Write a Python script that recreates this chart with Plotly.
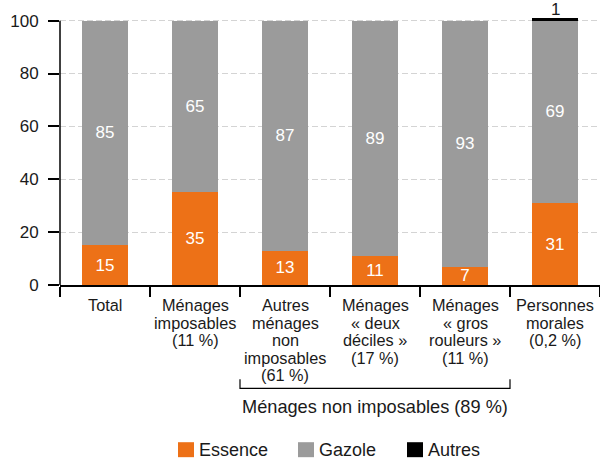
import plotly.graph_objects as go

# Fuel type shares (%) of vehicles by household category
categories = [
    "Total",
    "Ménages imposables",
    "Autres ménages non imposables",
    "Ménages « deux déciles »",
    "Ménages « gros rouleurs »",
    "Personnes morales",
]
category_lines = [
    ["Total"],
    ["Ménages", "imposables", "(11 %)"],
    ["Autres", "ménages", "non", "imposables", "(61 %)"],
    ["Ménages", "« deux", "déciles »", "(17 %)"],
    ["Ménages", "« gros", "rouleurs »", "(11 %)"],
    ["Personnes", "morales", "(0,2 %)"],
]
essence = [15, 35, 13, 11, 7, 31]
gazole = [85, 65, 87, 89, 93, 69]
autres = [0, 0, 0, 0, 0, 1]
series_names = ["Essence", "Gazole", "Autres"]
group_label = "Ménages non imposables (89 %)"
y_ticks = [0, 20, 40, 60, 80, 100]

ORANGE = "#ED7117"
GREY = "#9B9B9B"
BLACK = "#000000"
TEXT = "#1a1a1a"
FONT = "Liberation Sans, Arial, sans-serif"

W, H = 600, 459
M_L, M_R, M_T, M_B = 60, 0, 18, 173.5
PLOT_H = H - M_T - M_B
PLOT_W = W - M_L - M_R


def py(p):
    """Pixel row -> paper y."""
    return (H - M_B - p) / PLOT_H


def px(p):
    """Pixel column -> paper x."""
    return (p - M_L) / PLOT_W


fig = go.Figure()
for vals, name, col in [(essence, series_names[0], ORANGE),
                        (gazole, series_names[1], GREY)]:
    fig.add_trace(go.Bar(
        x=categories, y=vals, name=name,
        marker=dict(color=col, line=dict(width=0)),
        text=vals, textposition="inside", insidetextanchor="middle",
        textangle=0,
        textfont=dict(color="white", size=17, family=FONT),
    ))
fig.add_trace(go.Bar(
    x=categories, y=autres, name=series_names[2],
    marker=dict(color=BLACK, line=dict(width=0)),
))

annotations = []
# value label above the thin "Autres" segment
for cat, a in zip(categories, autres):
    if a:
        annotations.append(dict(
            x=cat, xref="x", y=py(9.5), yref="paper", text=str(a),
            showarrow=False, xanchor="center", yanchor="middle",
            font=dict(size=17, color=TEXT, family=FONT),
        ))
# multi-line category labels under the axis
for cat, lines in zip(categories, category_lines):
    for j, line in enumerate(lines):
        annotations.append(dict(
            x=cat, xref="x", y=py(306 + j * 17.4), yref="paper",
            text=line, showarrow=False, xanchor="center", yanchor="middle",
            font=dict(size=16.3, color=TEXT, family=FONT),
        ))
# group bracket label
annotations.append(dict(
    x=3, xref="x", y=py(408), yref="paper", text=group_label,
    showarrow=False, xanchor="center", yanchor="middle",
    font=dict(size=18.2, color=TEXT, family=FONT),
))

shapes = [
    # y-axis line stopping at 100
    dict(type="line", xref="paper", x0=0, x1=0, yref="y", y0=0, y1=100,
         line=dict(color=BLACK, width=1.5)),
    # bracket for the non-taxable households group
    dict(type="path", xref="x", yref="paper",
         path=f"M 1.5,{py(380)} L 1.5,{py(389)} L 4.5,{py(389)} L 4.5,{py(380)}",
         line=dict(color=BLACK, width=1.2)),
]

# legend drawn as swatches + labels
legend_x = [178, 298, 407]
legend_colors = [ORANGE, GREY, BLACK]
for name, lx, col in zip(series_names, legend_x, legend_colors):
    shapes.append(dict(type="rect", xref="paper", yref="paper",
                       x0=px(lx), x1=px(lx + 16), y0=py(458), y1=py(443),
                       fillcolor=col, line=dict(width=0)))
    annotations.append(dict(
        x=px(lx + 19), xref="paper", y=py(451), yref="paper", text=name,
        showarrow=False, xanchor="left", yanchor="middle",
        font=dict(size=18, color=TEXT, family=FONT),
    ))

fig.update_layout(
    width=W, height=H,
    margin=dict(l=M_L, r=M_R, t=M_T, b=M_B, pad=0),
    paper_bgcolor="white", plot_bgcolor="white",
    barmode="stack", bargap=0.49, showlegend=False,
    uniformtext=dict(minsize=17, mode="show"),
    font=dict(family=FONT, size=16, color=TEXT),
    annotations=annotations, shapes=shapes,
    xaxis=dict(
        type="category", range=[-0.5, 5.5], showticklabels=False,
        showline=True, linecolor=BLACK, linewidth=1.5,
        ticks="outside", tickson="boundaries", ticklen=10,
        tickcolor=BLACK, tickwidth=1.5, showgrid=False,
    ),
    yaxis=dict(
        range=[0, 101], tickvals=y_ticks, showline=False,
        ticks="outside", ticklen=11, tickcolor=BLACK, tickwidth=1.5,
        ticklabelstandoff=6,
        tickfont=dict(size=17, color=TEXT, family=FONT),
        showgrid=True, gridcolor="#d4d4d4", griddash="6px,3px", gridwidth=1,
        zeroline=False,
    ),
)

fig.write_html("out.html")
